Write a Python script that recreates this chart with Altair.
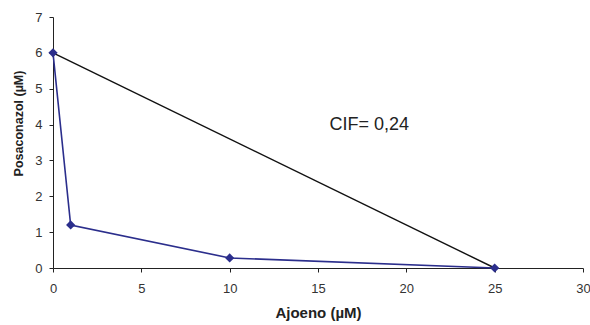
import altair as alt
import pandas as pd

# Ajoeno / Posaconazol isobologram values
ajoeno = [0, 1, 10, 25]
posaconazol = [6, 1.2, 0.28, 0]

# Additivity line between the two single-drug concentrations
add_x = [0, 25]
add_y = [6, 0]

cif_label = "CIF= 0,24"
cif_x = [17.9]
cif_y = [3.98]

x_ticks = [0, 5, 10, 15, 20, 25, 30]
y_ticks = [0, 1, 2, 3, 4, 5, 6, 7]

curve = pd.DataFrame({"a": ajoeno, "p": posaconazol})
additive = pd.DataFrame({"a": add_x, "p": add_y})
note = pd.DataFrame({"a": cif_x, "p": cif_y, "t": [cif_label]})

x_scale = alt.Scale(domain=[0, 30], nice=False, zero=True)
y_scale = alt.Scale(domain=[0, 7], nice=False, zero=True)

x_axis = alt.Axis(
    title="Ajoeno (µM)", values=x_ticks, grid=False,
    domainColor="#222222", tickColor="#222222", tickSize=4,
    labelFont="Liberation Sans", labelFontSize=13, labelColor="#333333", labelPadding=10,
    labelFlush=False, labelOverlap=False,
    titleFont="Liberation Sans", titleFontSize=15, titleFontWeight="bold",
    titleColor="#222222", titlePadding=10,
)
y_axis = alt.Axis(
    title="Posaconazol (µM)", values=y_ticks, grid=False,
    domainColor="#222222", tickColor="#222222", tickSize=4,
    labelFont="Liberation Sans", labelFontSize=13, labelColor="#333333", labelPadding=7,
    labelFlush=False, labelOverlap=False,
    titleFont="Liberation Sans", titleFontSize=12.5, titleFontWeight="bold",
    titleColor="#222222", titleX=-35, titleY=106,
    titleAlign="center", titleBaseline="middle", titleAngle=270,
)

x_enc = alt.X("a:Q", scale=x_scale, axis=x_axis)
y_enc = alt.Y("p:Q", scale=y_scale, axis=y_axis)

additive_line = alt.Chart(additive).mark_line(color="#111111", strokeWidth=1.4).encode(
    x=x_enc, y=y_enc
)

blue_line = alt.Chart(curve).mark_line(color="#2B2E8C", strokeWidth=1.6).encode(
    x=x_enc, y=y_enc
)

diamonds = alt.Chart(curve).mark_point(
    shape="diamond", filled=True, color="#2B2E8C", size=85, opacity=1
).encode(x=x_enc, y=y_enc)

label = alt.Chart(note).mark_text(
    font="Liberation Sans", fontSize=18, color="#222222", align="center", baseline="middle"
).encode(x=x_enc, y=y_enc, text="t:N")

chart = (
    alt.layer(additive_line, blue_line, diamonds, label)
    .properties(
        width=530, height=251,
        autosize=alt.AutoSizeParams(type="none"),
        padding={"left": 53, "top": 17, "right": 7, "bottom": 57},
        background="white",
    )
    .configure_view(stroke=None)
)

chart.save("out.html", embed_options={"renderer": "svg", "actions": False})
